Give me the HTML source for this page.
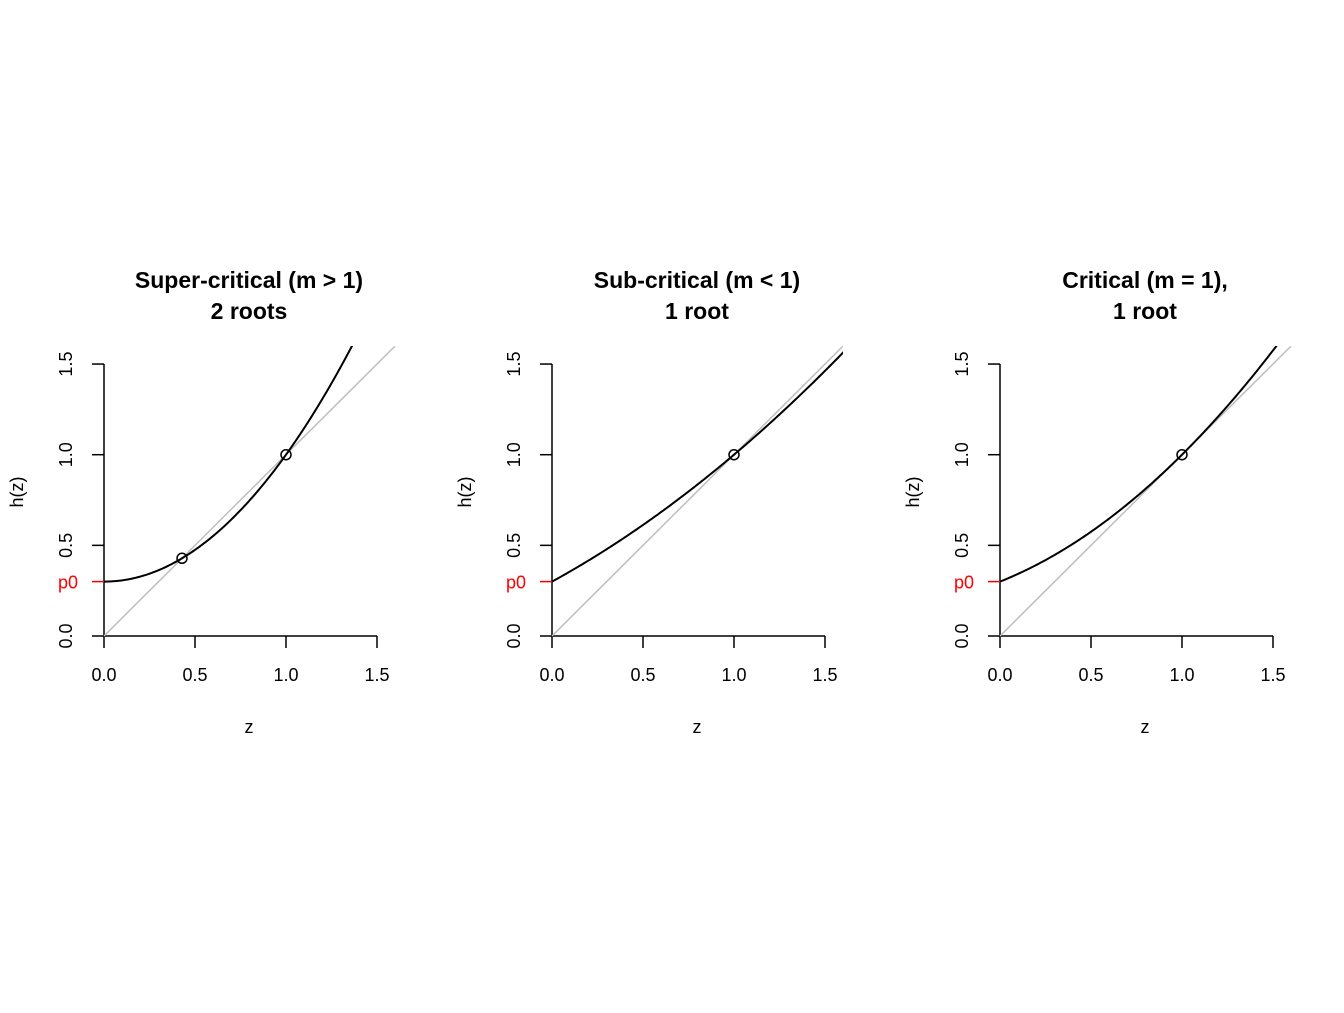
<!DOCTYPE html>
<html><head><meta charset="utf-8"><style>
body{margin:0;background:#fff}
svg{font-family:"Liberation Sans",sans-serif}
</style></head><body>
<svg id="c" width="1344" height="1008"></svg>
<script>
const titles1=["Super-critical (m > 1)","Sub-critical (m < 1)","Critical (m = 1),"];
const titles2=["2 roots","1 root","1 root"];
const p0s=[0.3,0.3,0.3];
const p1s=[0.0,0.55,0.4];
const p2s=[0.7,0.15,0.3];
const roots=[[0.4286,1],[1],[1]];
const ticks=[0,0.5,1,1.5];
const tickLabels=["0.0","0.5","1.0","1.5"];
const NS="http://www.w3.org/2000/svg";
const svg=document.getElementById('c');
function mk(t,a,p){const e=document.createElementNS(NS,t);for(const k in a)e.setAttribute(k,a[k]);(p||svg).appendChild(e);return e;}
const defs=mk('defs',{});
for(let i=0;i<3;i++){
  const ox=104+448*i;
  const X=v=>ox+v*182, Y=v=>636-v*181.3;
  const g=mk('g',{});
  
  
  const cp=mk('clipPath',{id:'cp'+i},defs);
  mk('rect',{x:ox-12,y:346,width:303,height:302},cp);
  const t=mk('text',{x:ox+145,y:288,'text-anchor':'middle','font-size':23,'font-weight':'bold'},g);t.textContent=titles1[i];
  
  const t2=mk('text',{x:ox+145,y:319,'text-anchor':'middle','font-size':23,'font-weight':'bold'},g);t2.textContent=titles2[i];
  
  // axes
  const xa=mk('g',{stroke:'#000','stroke-width':1.5},g);
  
  mk('line',{x1:X(0),x2:X(1.5),y1:636,y2:636},xa);
  const ya=mk('g',{stroke:'#000','stroke-width':1.5},g);
  
  mk('line',{x1:ox,x2:ox,y1:Y(0),y2:Y(1.5)},ya);
  ticks.forEach((v,j)=>{
    mk('line',{x1:X(v),x2:X(v),y1:636,y2:648},xa);
    const tx=mk('text',{x:X(v),y:681,'text-anchor':'middle','font-size':18},g);tx.textContent=tickLabels[j];
    
    mk('line',{x1:ox-12,x2:ox,y1:Y(v),y2:Y(v)},ya);
    const ty=mk('text',{x:0,y:0,'text-anchor':'middle','font-size':18,transform:`translate(${ox-32},${Y(v)}) rotate(-90)`},g);ty.textContent=tickLabels[j];
    
  });
  const xl=mk('text',{x:ox+145,y:733,'text-anchor':'middle','font-size':18},g);xl.textContent='z';
  
  const yl=mk('text',{x:0,y:0,'text-anchor':'middle','font-size':18,transform:`translate(${ox-81},${492}) rotate(-90)`},g);yl.textContent='h(z)';
  
  // p0
  mk('line',{x1:ox-12,x2:ox,y1:Y(p0s[i]),y2:Y(p0s[i]),stroke:'#f00','stroke-width':1.5},g);
  const pl=mk('text',{x:ox-26,y:Y(p0s[i])+7,'text-anchor':'end','font-size':18,fill:'#f00'},g);pl.textContent='p0';
  
  const cg=mk('g',{'clip-path':`url(#cp${i})`},g);
  const dl=mk('line',{x1:X(0),y1:Y(0),x2:X(1.7),y2:Y(1.7),stroke:'#bebebe','stroke-width':1.5},cg);
  
  let d='';
  for(let k=0;k<=170;k++){const z=k/100;const h=p0s[i]+p1s[i]*z+p2s[i]*z*z;d+=(k?'L':'M')+X(z).toFixed(2)+','+Y(h).toFixed(2);}
  const cv=mk('path',{d,fill:'none',stroke:'#000','stroke-width':2},cg);
  
  roots[i].forEach(r=>{
    const c=mk('circle',{cx:X(r),cy:Y(r),r:5,fill:'none',stroke:'#000','stroke-width':1.5},g);
    
  });
}
</script>
</body></html>
